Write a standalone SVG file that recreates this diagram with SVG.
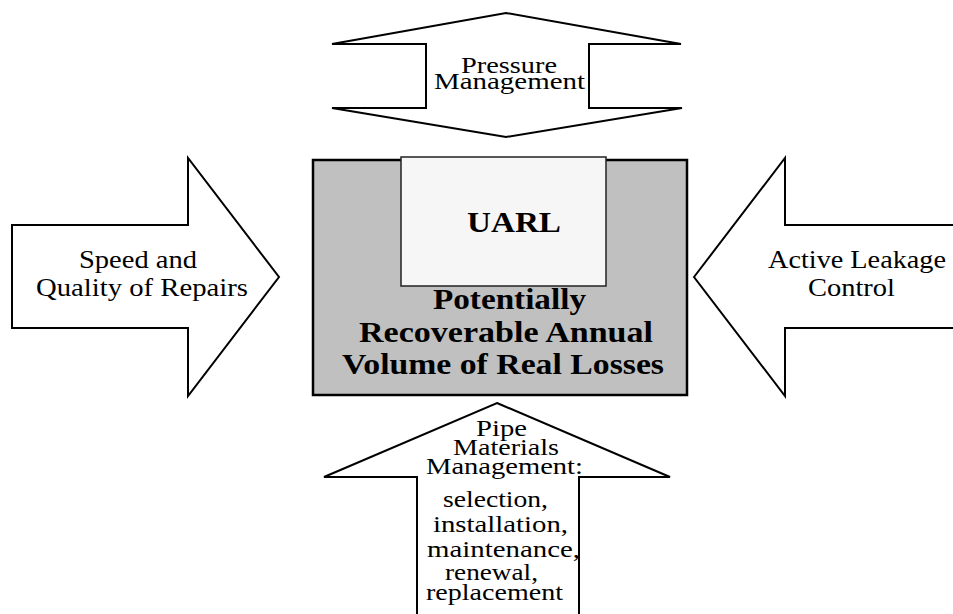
<svg xmlns="http://www.w3.org/2000/svg" width="953" height="614" viewBox="0 0 953 614">
<style>
.arrow{fill:#ffffff;stroke:#000000;stroke-width:2;stroke-linejoin:miter}
.t{font-family:"Liberation Serif","Times New Roman",serif;fill:#000000}
.r{font-size:26px}
.s{font-size:23px}
.b{font-size:30px;font-weight:bold}
</style>
<rect width="953" height="614" fill="#ffffff"/>
<g id="connectors"/>
<g id="pressure">
<path class="arrow" d="M506,13 L681,44 L589,44 L589,108 L682,108 L506,137 L332,108 L426,108 L426,44 L332,44 Z"/>
<text class="t s" x="461" y="73" textLength="96" lengthAdjust="spacingAndGlyphs">Pressure</text>
<text class="t s" x="434" y="89" textLength="151" lengthAdjust="spacingAndGlyphs">Management</text>
</g>
<g id="repairs">
<path class="arrow" d="M12,225 L188,225 L188,158 L279,277 L188,396 L188,328 L12,328 Z"/>
<text class="t r" x="79" y="268" textLength="118" lengthAdjust="spacingAndGlyphs">Speed and</text>
<text class="t r" x="36" y="296" textLength="212" lengthAdjust="spacingAndGlyphs">Quality of Repairs</text>
</g>
<g id="leakage">
<path class="arrow" d="M694,277 L785,158 L785,225 L962,225 L962,328 L785,328 L785,396 Z"/>
<text class="t r" x="768" y="268" textLength="178" lengthAdjust="spacingAndGlyphs">Active Leakage</text>
<text class="t r" x="808" y="296" textLength="87" lengthAdjust="spacingAndGlyphs">Control</text>
</g>
<g id="losses">
<rect x="313" y="160" width="374" height="235" fill="#c0c0c0" stroke="#000000" stroke-width="2.5"/>
<text class="t b" x="433" y="309" textLength="153" lengthAdjust="spacingAndGlyphs">Potentially</text>
<text class="t b" x="359" y="342" textLength="294" lengthAdjust="spacingAndGlyphs">Recoverable Annual</text>
<text class="t b" x="342" y="374" textLength="322" lengthAdjust="spacingAndGlyphs">Volume of Real Losses</text>
</g>
<g id="uarl">
<rect x="401" y="157" width="205" height="129" fill="#f6f6f6" stroke="#222222" stroke-width="1.5"/>
<text class="t b" x="467" y="232" textLength="94" lengthAdjust="spacingAndGlyphs">UARL</text>
</g>
<g id="pipes">
<path class="arrow" d="M497,403 L670,477 L579,477 L579,622 L417,622 L417,477 L324,477 Z"/>
<text class="t s" x="476" y="436" textLength="51" lengthAdjust="spacingAndGlyphs">Pipe</text>
<text class="t s" x="453" y="455" textLength="106" lengthAdjust="spacingAndGlyphs">Materials</text>
<text class="t s" x="426" y="474" textLength="157" lengthAdjust="spacingAndGlyphs">Management:</text>
<text class="t s" x="443" y="507" textLength="105" lengthAdjust="spacingAndGlyphs">selection,</text>
<text class="t s" x="433" y="532" textLength="135" lengthAdjust="spacingAndGlyphs">installation,</text>
<text class="t s" x="427" y="557" textLength="153" lengthAdjust="spacingAndGlyphs">maintenance,</text>
<text class="t s" x="445" y="580" textLength="93" lengthAdjust="spacingAndGlyphs">renewal,</text>
<text class="t s" x="426" y="600" textLength="137" lengthAdjust="spacingAndGlyphs">replacement</text>
</g>
</svg>
